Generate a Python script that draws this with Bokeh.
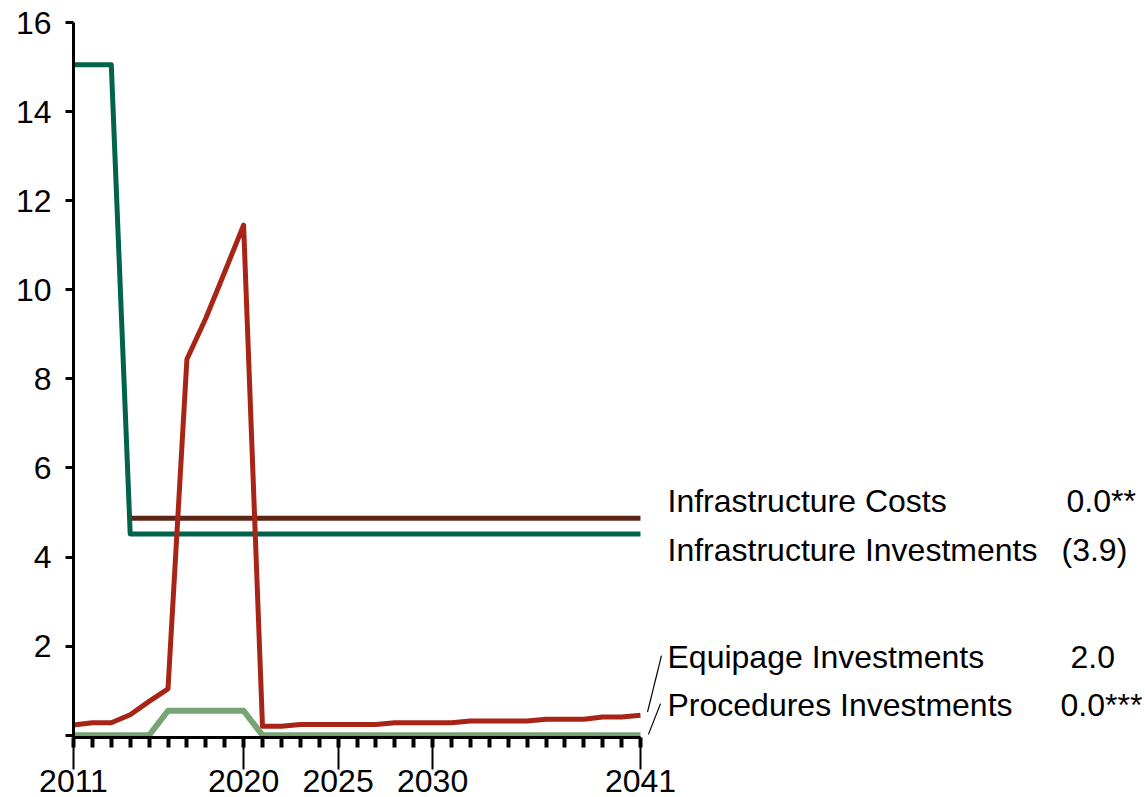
import math
from bokeh.plotting import figure
from bokeh.models import FixedTicker, ColumnDataSource, LabelSet, Range1d
from bokeh.core.properties import value
from bokeh.embed import file_html
from bokeh.resources import INLINE

# ---------------- data ----------------
years = list(range(2011, 2042))

infra_investments = [15.05, 15.05, 15.05] + [4.52] * 28
infra_costs = [math.nan, math.nan, math.nan] + [4.87] * 28
equipage_investments = [0.23, 0.28, 0.28, 0.46, 0.76, 1.04, 8.44, 9.36, 10.40, 11.45,
                        0.20, 0.20, 0.24, 0.24, 0.24, 0.24, 0.24, 0.28, 0.28, 0.28,
                        0.28, 0.32, 0.32, 0.32, 0.32, 0.36, 0.36, 0.36, 0.41, 0.41, 0.45]
procedures_investments = [0, 0, 0, 0, 0, 0.55, 0.55, 0.55, 0.55, 0.55] + [0] * 21

x_major_ticks = [2011, 2020, 2025, 2030, 2041]
y_ticks = [0, 2, 4, 6, 8, 10, 12, 14, 16]

series_names = ["Infrastructure Costs", "Infrastructure Investments",
                "Equipage Investments", "Procedures Investments"]
series_values = ["0.0**", "(3.9)", "2.0", "0.0***"]
label_y = [5.26, 4.16, 1.75, 0.67]
value_offsets = [426, 421, 430, 420]

FONT = "Liberation Sans"
C_DKGREEN = "#00634a"
C_BROWN = "#5c2616"
C_RED = "#a82416"
C_LTGREEN = "#78a474"

p = figure(width=1145, height=797, output_backend="svg", toolbar_location=None,
           x_range=Range1d(2011, 2011 + 1072 / 18.9), y_range=Range1d(-0.05, 16),
           min_border_left=73, min_border_right=0, min_border_top=22, min_border_bottom=60)
p.outline_line_color = None
p.grid.visible = False
p.background_fill_color = "white"
p.border_fill_color = "white"

# lines
p.line(years, procedures_investments, line_color=C_LTGREEN, line_width=6, line_join="round")
p.line(years, infra_costs, line_color=C_BROWN, line_width=5)
p.line(years, infra_investments, line_color=C_DKGREEN, line_width=5, line_join="round")
p.line(years, equipage_investments, line_color=C_RED, line_width=5, line_join="round")

# leader lines to the two lower labels
p.segment(x0=[2041.37, 2041.42], y0=[equipage_investments[-1] + 0.07, procedures_investments[-1] + 0.02],
          x1=[2042.11, 2042.06], y1=[label_y[2] + 0.04, label_y[3] + 0.04],
          line_color="black", line_width=1.2)

# x axis
xa = p.xaxis[0]
xa.bounds = (2011, 2041)
xa.ticker = FixedTicker(ticks=x_major_ticks, minor_ticks=years)
xa.axis_line_width = 3
xa.axis_line_color = "black"
xa.major_tick_out = 32
xa.major_tick_in = 0
xa.major_tick_line_width = 2
xa.minor_tick_out = 10
xa.minor_tick_in = 0
xa.minor_tick_line_width = 4
xa.major_label_text_font = FONT
xa.major_label_text_font_size = "32px"
xa.major_label_text_color = "black"
xa.major_label_standoff = 0

# y axis
ya = p.yaxis[0]
ya.bounds = (-0.05, 16)
ya.ticker = FixedTicker(ticks=y_ticks)
ya.major_label_overrides = {0: ""}
ya.axis_line_width = 3
ya.major_tick_out = 8
ya.major_tick_in = 0
ya.major_tick_line_width = 3
ya.minor_tick_line_color = None
ya.major_label_text_font = FONT
ya.major_label_text_font_size = "32px"
ya.major_label_text_color = "black"
ya.major_label_standoff = 14

# right-hand labels
src = ColumnDataSource(dict(x=[2041] * 4, y=label_y, name=series_names,
                            val=series_values, off=value_offsets))
p.add_layout(LabelSet(x="x", y="y", text="name", source=src, x_offset=27,
                      text_font=value(FONT), text_font_size="32px", text_color="black",
                      text_baseline="middle", text_align="left"))
p.add_layout(LabelSet(x="x", y="y", text="val", source=src, x_offset="off",
                      text_font=value(FONT), text_font_size="32px", text_color="black",
                      text_baseline="middle", text_align="left"))

open("out.html", "w").write(file_html(p, INLINE))
